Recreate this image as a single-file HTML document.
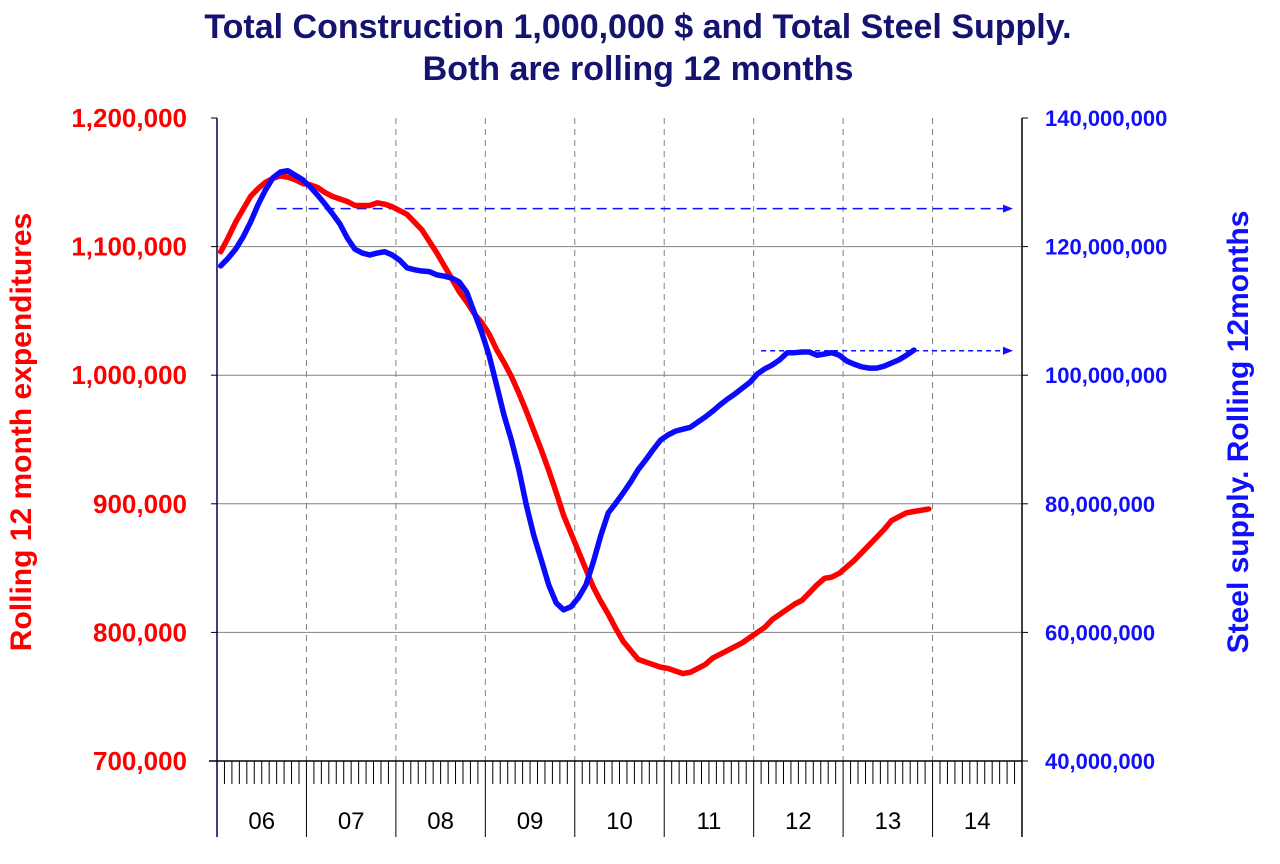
<!DOCTYPE html>
<html><head><meta charset="utf-8"><style>
body{margin:0;background:#fff;font-family:"Liberation Sans",Arial,sans-serif}
svg{display:block}
</style></head><body>
<svg id="chart" width="1280" height="864" xmlns="http://www.w3.org/2000/svg">
<text x="638" y="38" text-anchor="middle" font-size="34" font-weight="bold" fill="#141470">Total Construction 1,000,000 $ and Total Steel Supply.</text>
<text x="638" y="80" text-anchor="middle" font-size="34" font-weight="bold" fill="#141470">Both are rolling 12 months</text>
<text transform="translate(31,432) rotate(-90)" text-anchor="middle" font-size="30" font-weight="bold" fill="#ff0000">Rolling 12 month expenditures</text>
<text transform="translate(1248,432) rotate(-90)" text-anchor="middle" font-size="30" font-weight="bold" fill="#1010ff">Steel supply. Rolling 12months</text>
<g id="grid"></g><g id="axes"></g><g id="series"></g>
</svg>
<script>
const years = ["06","07","08","09","10","11","12","13","14"];
const leftTicks = [700000,800000,900000,1000000,1100000,1200000];
const rightTicks = [40000000,60000000,80000000,100000000,120000000,140000000];
const construction = [1096,1107,1119,1129,1139,1145,1150,1153,1155,1154,1152,1149,1148,1146,1142,1139,1137,1135,1132,1132,1132,1134,1133,1131,1128,1125,1119,1113,1104,1095,1085,1075,1065,1057,1048,1041,1032,1020,1010,999,986,972,957,942,926,909,891,877,863,849,835,824,814,803,793,786,779,777,775,773,772,770,768,769,772,775,780,783,786,789,792,796,800,804,810,814,818,822,825,831,837,842,843,846,851,856,862,868,874,880,887,890,893,894,895,896].map(v=>v*1000);
const steel = [117.0,118.2,119.6,121.5,123.8,126.5,128.8,130.7,131.6,131.8,131.1,130.4,129.3,128.0,126.6,125.1,123.5,121.3,119.6,119.0,118.7,119.0,119.2,118.7,117.9,116.7,116.4,116.2,116.1,115.6,115.4,115.1,114.5,112.9,109.8,106.7,103.1,98.5,93.8,89.9,85.3,79.8,75.1,71.3,67.4,64.6,63.5,64.0,65.4,67.4,71.0,75.1,78.6,80.1,81.7,83.4,85.3,86.8,88.4,89.9,90.7,91.3,91.6,91.9,92.7,93.5,94.4,95.4,96.3,97.1,98.0,98.9,100.2,101.0,101.6,102.4,103.5,103.5,103.6,103.6,103.1,103.3,103.5,103.1,102.2,101.7,101.3,101.1,101.1,101.4,101.9,102.4,103.1,103.9].map(v=>v*1e6);
const arrowLevels = [125.9e6, 103.8e6];
const arrowStartMonths = [7.5, 72.5];

const X0=217,X1=1022,Y0=761,Y1=118;
const NS="http://www.w3.org/2000/svg";
const xM = m => X0 + (X1-X0)/(years.length*12)*(m+0.5);
const xYear = i => X0 + (X1-X0)/years.length*i;
const yL = v => Y0 - (v-700000)/(1200000-700000)*(Y0-Y1);
const yR = v => Y0 - (v-40e6)/(140e6-40e6)*(Y0-Y1);
function mk(tag,attrs,parent){const e=document.createElementNS(NS,tag);for(const k in attrs)e.setAttribute(k,attrs[k]);document.getElementById(parent).appendChild(e);return e;}
const fmt = v => v.toLocaleString("en-US");

leftTicks.forEach((v,i)=>{
  const y=yL(v);
  if(i>0&&i<leftTicks.length-1){const g=mk("line",{x1:X0,x2:X1,y1:y,y2:y,stroke:"#808080","stroke-width":1},"grid");
  
  }
  const t=mk("line",{x1:X0-6,x2:X0,y1:y,y2:y,stroke:"#000"},"axes");
  
  
  const l=mk("text",{x:187,y:y+9,"text-anchor":"end","font-size":26,"font-weight":"bold",fill:"#ff0000"},"axes");
  l.textContent=fmt(v);
  
  
});
rightTicks.forEach(v=>{
  const y=yR(v);
  const t=mk("line",{x1:X1,x2:X1+6,y1:y,y2:y,stroke:"#000"},"axes");
  
  
  const l=mk("text",{x:1045,y:y+8,"font-size":22,"font-weight":"bold",fill:"#1010ff"},"axes");
  l.textContent=fmt(v);
  
  
});
for(let i=1;i<years.length;i++){
  const x=xYear(i);
  const g=mk("line",{x1:x,x2:x,y1:Y1,y2:Y0,stroke:"#808080","stroke-dasharray":"6,5"},"grid");
  
  
}
for(let m=1;m<years.length*12;m++){
  const x=X0+(X1-X0)/(years.length*12)*m;
  const t=mk("line",{x1:x,x2:x,y1:Y0,y2:m%12===0?837:784,stroke:"#000","stroke-width":1},"axes");
  
  
}
years.forEach((y,i)=>{
  const l=mk("text",{x:(xYear(i)+xYear(i+1))/2,y:829,"text-anchor":"middle","font-size":24,fill:"#000"},"axes");
  l.textContent=y;
  
  
});
[[X0,Y1,X0,837,"#000050","left-axis-line"],[X1,Y1,X1,837,"#000","right-axis-line"],[X0-8,Y0,X1,Y0,"#000","x-axis-line"]].forEach(a=>{
  const e=mk("line",{x1:a[0],y1:a[1],x2:a[2],y2:a[3],stroke:a[4],"stroke-width":1.5},"axes");
  
  
});
const defs=mk("defs",{},"series");
const mkr=document.createElementNS(NS,"marker");
[["id","ah"],["markerWidth","10"],["markerHeight","10"],["refX","9"],["refY","5"],["orient","auto"],["markerUnits","userSpaceOnUse"]].forEach(a=>mkr.setAttribute(a[0],a[1]));
const mp=document.createElementNS(NS,"path");mp.setAttribute("d","M0,1 L10,5 L0,9 Z");mp.setAttribute("fill","#1010ff");mkr.appendChild(mp);defs.appendChild(mkr);
arrowLevels.forEach((v,i)=>{
  const y=yR(v);
  const a=mk("line",{x1:xM(arrowStartMonths[i]),x2:1012,y1:y,y2:y,stroke:"#1010ff","stroke-width":1.5,"stroke-dasharray":i===0?"10,6":"5,4","marker-end":"url(#ah)"},"series");
  
  
});
const rp=mk("polyline",{points:construction.map((v,m)=>xM(m)+","+yL(v)).join(" "),fill:"none",stroke:"#ff0000","stroke-width":5.5,"stroke-linejoin":"round","stroke-linecap":"round"},"series");


const bp=mk("polyline",{points:steel.map((v,m)=>xM(m)+","+yR(v)).join(" "),fill:"none",stroke:"#0a0aff","stroke-width":5.5,"stroke-linejoin":"round","stroke-linecap":"round"},"series");


</script>
</body></html>
